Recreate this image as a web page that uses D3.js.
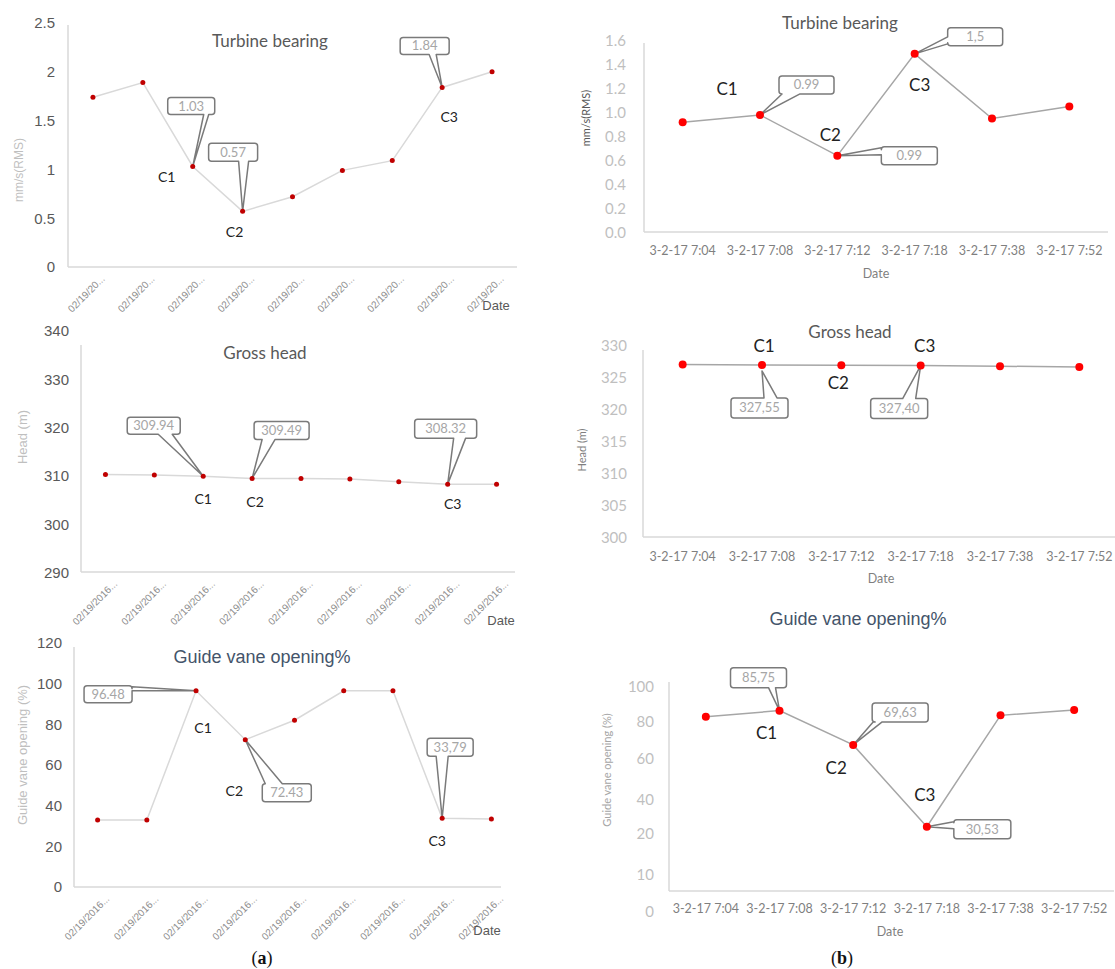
<!DOCTYPE html>
<html>
<head>
<meta charset="utf-8">
<script src="https://cdn.jsdelivr.net/npm/d3@7"></script>
<style>
  body { margin: 0; background: #fff; }
</style>
</head>
<body>
<svg id="fig" width="1115" height="969"></svg>
<script>
// ---- (a) 02/19/2016 series ----
const datesA1 = ["02/19/20...", "02/19/20...", "02/19/20...", "02/19/20...", "02/19/20...", "02/19/20...", "02/19/20...", "02/19/20...", "02/19/20..."];
const datesA = ["02/19/2016...", "02/19/2016...", "02/19/2016...", "02/19/2016...", "02/19/2016...", "02/19/2016...", "02/19/2016...", "02/19/2016...", "02/19/2016..."];
const bearingA = [1.74, 1.89, 1.03, 0.57, 0.72, 0.99, 1.09, 1.84, 2.0];
const headA = [310.3, 310.2, 309.94, 309.49, 309.5, 309.4, 308.8, 308.32, 308.3];
const vaneA = [33, 33, 96.48, 72.43, 82, 96.5, 96.5, 33.79, 33.5];

const ticksBearingA = [0, 0.5, 1, 1.5, 2, 2.5];
const ticksHeadA = [290, 300, 310, 320, 330, 340];
const ticksVaneA = [0, 20, 40, 60, 80, 100, 120];

// ---- (b) 3-2-17 series ----
const datesB = ["3-2-17 7:04", "3-2-17 7:08", "3-2-17 7:12", "3-2-17 7:18", "3-2-17 7:38", "3-2-17 7:52"];
const bearingB = [0.92, 0.98, 0.64, 1.49, 0.95, 1.05];
const headB = [327.1, 327.05, 327.0, 326.95, 326.85, 326.7];
const vaneB = [83, 86.5, 67.6, 24.3, 83.8, 86.9];

const ticksBearingB = [0, 0.2, 0.4, 0.6, 0.8, 1.0, 1.2, 1.4, 1.6];
const ticksHeadB = [300, 305, 310, 315, 320, 325, 330];
const ticksVaneB = [0, 10, 20, 40, 60, 80, 100];

// data labels (callouts) and case markers
const caseNames = ["C1", "C2", "C3"];
const caseIdxA = [2, 3, 7];
const caseIdxB = [1, 2, 3];
const calloutBearingA = ["1.03", "0.57", "1.84"];
const calloutHeadA = ["309.94", "309.49", "308.32"];
const calloutVaneA = ["96.48", "72.43", "33,79"];
const calloutBearingB = ["0.99", "0.99", "1,5"];
const calloutHeadB = ["327,55", "327,40"];
const calloutHeadBIdx = [1, 3];
const calloutVaneB = ["85,75", "69,63", "30,53"];

const SANS = "'Liberation Sans', Arial, sans-serif";
const LATO = "Lato, 'Open Sans', sans-serif";

const svg = d3.select("#fig");

function calloutPath(bx, by, w, h, side, t1, t2, px, py) {
    const r = 3, R = bx + w, B = by + h;
    let d = `M${bx + r},${by}`;
    if (side === "top") d += `L${bx + t1},${by}L${px},${py}L${bx + t2},${by}`;
    d += `L${R - r},${by}Q${R},${by} ${R},${by + r}`;
    if (side === "right") d += `L${R},${by + t1}L${px},${py}L${R},${by + t2}`;
    d += `L${R},${B - r}Q${R},${B} ${R - r},${B}`;
    if (side === "bottom") d += `L${bx + t2},${B}L${px},${py}L${bx + t1},${B}`;
    d += `L${bx + r},${B}Q${bx},${B} ${bx},${B - r}`;
    if (side === "left") d += `L${bx},${by + t2}L${px},${py}L${bx},${by + t1}`;
    d += `L${bx},${by + r}Q${bx},${by} ${bx + r},${by}Z`;
    return d;
}

function drawPanel(p) {
    const g = svg.append("g");
    const x = d3.scaleBand().domain(d3.range(p.cats.length)).range(p.xRange);
    const y = d3.scaleLinear().domain(p.yDomain).range(p.yRange);
    const cx = i => x(i) + x.bandwidth() / 2;

    // axis lines
    g.append("line")
        .attr("x1", p.axisX).attr("x2", p.axisX)
        .attr("y1", p.axisTop).attr("y2", p.axisY)
        .attr("stroke", "#d9d9d9").attr("stroke-width", 1.5);
    g.append("line")
        .attr("x1", p.axisX).attr("x2", p.axisRight)
        .attr("y1", p.axisY).attr("y2", p.axisY)
        .attr("stroke", "#d9d9d9").attr("stroke-width", 1.5);

    // y ticks
    const ya = g.append("g")
        .attr("transform", `translate(${p.axisX},0)`)
        .call(d3.axisLeft(y).tickValues(p.yTicks).tickSize(0).tickPadding(p.tickPad).tickFormat(p.fmt));
    ya.select(".domain").remove();
    ya.selectAll("text")
        .attr("font-family", p.tickFont).attr("font-size", p.tickSize).attr("fill", p.tickColor);

    // x tick labels
    const xa = g.append("g")
        .attr("transform", `translate(0,${p.axisY})`)
        .call(d3.axisBottom(x).tickSize(0).tickFormat(i => p.cats[i]));
    xa.select(".domain").remove();
    xa.selectAll("text")
        .attr("font-family", p.xFont).attr("font-size", p.xSize).attr("fill", p.xColor);
    if (p.rotate) {
        xa.selectAll("text")
            .attr("y", 0).attr("dy", "0.35em")
            .attr("text-anchor", "end")
            .attr("transform", `translate(10,10) rotate(-45)`);
    } else {
        xa.selectAll("text").attr("y", p.xLabelDy).attr("dy", "0.35em");
    }

    // series line
    g.append("path")
        .datum(p.values)
        .attr("fill", "none")
        .attr("stroke", p.lineColor)
        .attr("stroke-width", 1.5)
        .attr("d", d3.line().x((d, i) => cx(i)).y(d => y(d)));

    // callouts
    p.callouts.forEach((c, k) => {
        const px = cx(c.i), py = y(p.values[c.i]);
        const bx = px + c.dx, by = py + c.dy;
        g.append("path")
            .attr("d", calloutPath(bx, by, c.w, c.h, c.side, c.t1, c.t2, px, py + (c.tipDy || 0)))
            .attr("fill", "#fff")
            .attr("stroke", "#7a7a7a")
            .attr("stroke-width", 1.5)
            .attr("stroke-linejoin", "round");
        g.append("text")
            .attr("x", bx + c.w / 2).attr("y", by + c.h / 2)
            .attr("dy", "0.35em")
            .attr("text-anchor", "middle")
            .attr("font-family", LATO).attr("font-size", 13)
            .attr("fill", "#a6a6a6")
            .text(p.calloutText[k]);
    });

    // points
    g.selectAll("circle.pt")
        .data(p.values)
        .enter()
        .append("circle")
        .attr("class", "pt")
        .attr("cx", (d, i) => cx(i))
        .attr("cy", d => y(d))
        .attr("r", p.dotR)
        .attr("fill", p.dotColor);

    // case markers C1..C3
    p.cases.forEach((c, k) => {
        g.append("text")
            .attr("x", cx(c.i) + c.dx).attr("y", y(p.values[c.i]) + c.dy)
            .attr("dy", "0.35em")
            .attr("text-anchor", "middle")
            .attr("font-family", LATO).attr("font-size", p.caseSize)
            .attr("fill", "#222")
            .text(caseNames[k]);
    });

    // title
    g.append("text")
        .attr("x", p.titleX).attr("y", p.titleY)
        .attr("dy", "0.35em")
        .attr("text-anchor", "middle")
        .attr("font-family", p.titleFont).attr("font-size", p.titleSize)
        .attr("fill", p.titleColor)
        .text(p.title);

    // y title
    g.append("text")
        .attr("transform", `translate(${p.yTitleX},${p.yTitleY}) rotate(-90)`)
        .attr("dy", "0.35em")
        .attr("text-anchor", "middle")
        .attr("font-family", p.yTitleFont).attr("font-size", p.yTitleSize)
        .attr("fill", p.yTitleColor)
        .text(p.yTitle);

    // x title
    g.append("text")
        .attr("x", p.dateX).attr("y", p.dateY)
        .attr("dy", "0.35em")
        .attr("text-anchor", "middle")
        .attr("font-family", p.dateFont).attr("font-size", p.dateSize)
        .attr("fill", p.dateColor)
        .text("Date");
}

const styleA = {
    tickFont: SANS, tickSize: 15, tickColor: "#595959",
    xFont: SANS, xSize: 10, xColor: "#8c8c8c", rotate: true,
    lineColor: "#d9d9d9", dotR: 2.5, dotColor: "#c00000",
    caseSize: 14,
    yTitleFont: SANS, yTitleSize: 13, yTitleColor: "#bfbfbf",
    dateFont: SANS, dateSize: 13, dateColor: "#595959"
};
const styleB = {
    tickFont: LATO, tickSize: 15, tickColor: "#bfbfbf",
    xFont: LATO, xSize: 12.5, xColor: "#7f7f7f", rotate: false,
    lineColor: "#a6a6a6", dotR: 4, dotColor: "#ff0000",
    caseSize: 17,
    yTitleFont: LATO, yTitleSize: 11,
    dateFont: LATO, dateSize: 12.5, dateColor: "#7f7f7f"
};

// (a) Turbine bearing
drawPanel(Object.assign({}, styleA, {
    cats: datesA1, values: bearingA, yTicks: ticksBearingA, fmt: d3.format(""),
    yDomain: [0, 2.5], yRange: [267, 23], xRange: [68, 517],
    axisX: 68, axisTop: 25, axisY: 267, axisRight: 517, tickPad: 13,
    title: "Turbine bearing", titleX: 270, titleY: 41, titleFont: LATO, titleSize: 17, titleColor: "#595959",
    yTitle: "mm/s(RMS)", yTitleX: 19, yTitleY: 170, yTitleSize: 12,
    dateX: 496, dateY: 305,
    calloutText: calloutBearingA,
    callouts: [
        { i: caseIdxA[0], dx: -25, dy: -69, w: 47, h: 17, side: "bottom", t1: 36, t2: 41 },
        { i: caseIdxA[1], dx: -34, dy: -68, w: 49, h: 18, side: "bottom", t1: 30, t2: 40 },
        { i: caseIdxA[2], dx: -42, dy: -50, w: 49, h: 17, side: "bottom", t1: 29, t2: 36 }
    ],
    cases: [
        { i: caseIdxA[0], dx: -26, dy: 11 },
        { i: caseIdxA[1], dx: -8, dy: 21 },
        { i: caseIdxA[2], dx: 7, dy: 30 }
    ]
}));

// (a) Gross head
drawPanel(Object.assign({}, styleA, {
    cats: datesA, values: headA, yTicks: ticksHeadA, fmt: d3.format(""),
    yDomain: [290, 340], yRange: [572.7, 331], xRange: [81, 521],
    axisX: 81, axisTop: 345, axisY: 572, axisRight: 515, tickPad: 12,
    title: "Gross head", titleX: 265, titleY: 353, titleFont: LATO, titleSize: 17, titleColor: "#595959",
    yTitle: "Head (m)", yTitleX: 22, yTitleY: 437,
    dateX: 501, dateY: 620,
    calloutText: calloutHeadA,
    callouts: [
        { i: caseIdxA[0], dx: -76, dy: -59, w: 53, h: 17, side: "bottom", t1: 31, t2: 45 },
        { i: caseIdxA[1], dx: 2, dy: -57, w: 55, h: 18, side: "bottom", t1: 8, t2: 21 },
        { i: caseIdxA[2], dx: -33, dy: -65, w: 62, h: 19, side: "bottom", t1: 39, t2: 51 }
    ],
    cases: [
        { i: caseIdxA[0], dx: 0, dy: 23 },
        { i: caseIdxA[1], dx: 3, dy: 24 },
        { i: caseIdxA[2], dx: 5, dy: 20 }
    ]
}));

// (a) Guide vane opening
drawPanel(Object.assign({}, styleA, {
    cats: datesA, values: vaneA, yTicks: ticksVaneA, fmt: d3.format(""),
    yDomain: [0, 120], yRange: [887, 643], xRange: [73, 516],
    axisX: 74, axisTop: 647, axisY: 887, axisRight: 501, tickPad: 12,
    title: "Guide vane opening%", titleX: 262, titleY: 657, titleFont: SANS, titleSize: 18, titleColor: "#44546a",
    yTitle: "Guide vane opening (%)", yTitleX: 22, yTitleY: 755,
    dateX: 487, dateY: 930,
    calloutText: calloutVaneA,
    callouts: [
        { i: caseIdxA[0], dx: -112, dy: -5, w: 48, h: 17, side: "right", t1: 1, t2: 5 },
        { i: caseIdxA[1], dx: 17, dy: 44, w: 49, h: 18, side: "top", t1: 3, t2: 20 },
        { i: caseIdxA[2], dx: -15, dy: -80, w: 46, h: 18, side: "bottom", t1: 9, t2: 21 }
    ],
    cases: [
        { i: caseIdxA[0], dx: 7, dy: 37 },
        { i: caseIdxA[1], dx: -11, dy: 51 },
        { i: caseIdxA[2], dx: -5, dy: 23 }
    ]
}));

// (b) Turbine bearing
drawPanel(Object.assign({}, styleB, {
    cats: datesB, values: bearingB, yTicks: ticksBearingB, fmt: d3.format(".1f"),
    yDomain: [0, 1.6], yRange: [232.3, 40.7], xRange: [644, 1108],
    axisX: 644, axisTop: 43, axisY: 232, axisRight: 1108, tickPad: 18, xLabelDy: 19,
    title: "Turbine bearing", titleX: 840, titleY: 23, titleFont: LATO, titleSize: 17, titleColor: "#595959",
    yTitle: "mm/s(RMS)", yTitleX: 586, yTitleY: 118, yTitleColor: "#595959",
    dateX: 876, dateY: 274,
    calloutText: calloutBearingB,
    callouts: [
        { i: caseIdxB[0], dx: 19, dy: -39, w: 55, h: 18, side: "bottom", t1: 3, t2: 21 },
        { i: caseIdxB[1], dx: 44, dy: -9, w: 56, h: 18, side: "left", t1: 1, t2: 8 },
        { i: caseIdxB[2], dx: 33, dy: -26, w: 55, h: 18, side: "left", t1: 9, t2: 16 }
    ],
    cases: [
        { i: caseIdxB[0], dx: -33, dy: -26 },
        { i: caseIdxB[1], dx: -7, dy: -21 },
        { i: caseIdxB[2], dx: 5, dy: 31 }
    ]
}));

// (b) Gross head
drawPanel(Object.assign({}, styleB, {
    cats: datesB, values: headB, yTicks: ticksHeadB, fmt: d3.format(""),
    yDomain: [300, 330], yRange: [538, 346], xRange: [643, 1119],
    axisX: 643, axisTop: 350, axisY: 537, axisRight: 1115, tickPad: 16, xLabelDy: 20,
    title: "Gross head", titleX: 850, titleY: 332, titleFont: LATO, titleSize: 17, titleColor: "#595959",
    yTitle: "Head (m)", yTitleX: 582, yTitleY: 450, yTitleColor: "#7f7f7f",
    dateX: 881, dateY: 579,
    calloutText: calloutHeadB,
    callouts: [
        { i: calloutHeadBIdx[0], dx: -31, dy: 33, w: 57, h: 20, side: "top", t1: 33, t2: 46, tipDy: 6 },
        { i: calloutHeadBIdx[1], dx: -50, dy: 33, w: 57, h: 20, side: "top", t1: 32, t2: 45 }
    ],
    cases: [
        { i: caseIdxB[0], dx: 2, dy: -19 },
        { i: caseIdxB[1], dx: -3, dy: 18 },
        { i: caseIdxB[2], dx: 4, dy: -19 }
    ]
}));

// (b) Guide vane opening (uneven axis as in the source figure)
drawPanel(Object.assign({}, styleB, {
    cats: datesB, values: vaneB, yTicks: ticksVaneB, fmt: d3.format(""),
    yDomain: ticksVaneB, yRange: [912, 875, 834, 800, 759, 722, 687], xRange: [669, 1111],
    axisX: 669, axisTop: 682, axisY: 891, axisRight: 1114, tickPad: 15, xLabelDy: 18,
    title: "Guide vane opening%", titleX: 858, titleY: 619, titleFont: SANS, titleSize: 18, titleColor: "#44546a",
    yTitle: "Guide vane opening (%)", yTitleX: 607, yTitleY: 770, yTitleColor: "#a6a6a6",
    dateX: 890, dateY: 932,
    calloutText: calloutVaneB,
    callouts: [
        { i: caseIdxB[0], dx: -49, dy: -43, w: 56, h: 20, side: "bottom", t1: 38, t2: 45 },
        { i: caseIdxB[1], dx: 19, dy: -42, w: 56, h: 19, side: "bottom", t1: 1, t2: 10 },
        { i: caseIdxB[2], dx: 27, dy: -7, w: 57, h: 19, side: "left", t1: 2, t2: 9 }
    ],
    cases: [
        { i: caseIdxB[0], dx: -13, dy: 22 },
        { i: caseIdxB[1], dx: -17, dy: 23 },
        { i: caseIdxB[2], dx: -2, dy: -32 }
    ]
}));

// sub-figure captions
[["a", 262], ["b", 842]].forEach(([k, xPos]) => {
    const t = svg.append("text")
        .attr("x", xPos).attr("y", 958)
        .attr("dy", "0.35em")
        .attr("text-anchor", "middle")
        .attr("font-family", "'Liberation Serif', 'DejaVu Serif', serif")
        .attr("font-size", 18)
        .attr("fill", "#111");
    t.append("tspan").text("(");
    t.append("tspan").attr("font-weight", "bold").text(k);
    t.append("tspan").text(")");
});
</script>
</body>
</html>
